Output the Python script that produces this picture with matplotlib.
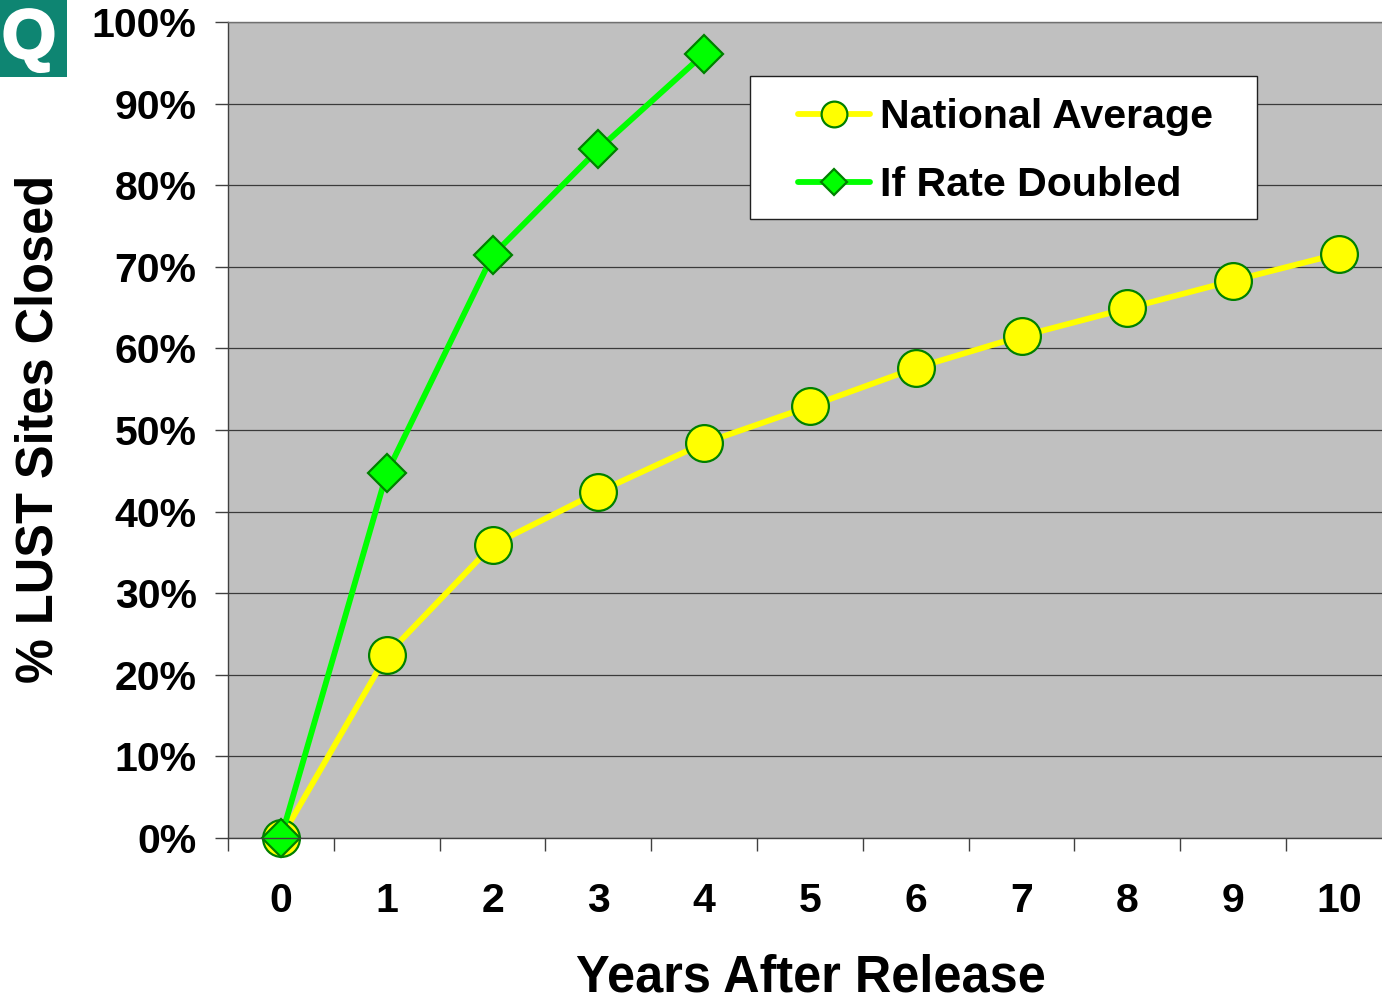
# -*- coding: utf-8 -*-

"""
LUST site closures after release
"""

import matplotlib
matplotlib.use('Agg')
import matplotlib.pyplot as plt
import matplotlib.patheffects as pe
from matplotlib.patches import Rectangle

years = [0, 1, 2, 3, 4, 5, 6, 7, 8, 9, 10]
national_average = [0, 22.4, 35.9, 42.4, 48.4, 52.9, 57.6, 61.5, 64.9, 68.3, 71.6]
doubled_years = [0, 1, 2, 3, 4]
rate_doubled = [0, 44.7, 71.4, 84.4, 96.1]
y_ticks = [0, 10, 20, 30, 40, 50, 60, 70, 80, 90, 100]
y_labels = ['0%', '10%', '20%', '30%', '40%', '50%', '60%', '70%', '80%', '90%', '100%']

W, H = 1382, 994
plt.rcParams['font.family'] = ['Liberation Sans', 'DejaVu Sans']
plt.rcParams['font.weight'] = 'bold'

fig = plt.figure(figsize=(W / 100, H / 100), dpi=100)
left, right, top, bottom = 228, 1382, 22, 838
ax = fig.add_axes([left / W, 1 - bottom / H, (right - left) / W, (bottom - top) / H])
ax.set_facecolor('#C0C0C0')
ax.set_ylim(0, 100)
ax.set_axisbelow(True)
ax.grid(axis='y', color='#3A3A3A', linewidth=0.9)

for s in ['top', 'left', 'bottom']:
    ax.spines[s].set_color('#404040')
    ax.spines[s].set_linewidth(1.0)
ax.spines['top'].set_color('#707070')
ax.spines['right'].set_visible(False)

ax.plot(years, national_average, color='#FFFF00', linewidth=4.2, marker='o', markersize=26.5,
        markerfacecolor='#FFFF00', markeredgecolor='#008000', markeredgewidth=1.6,
        label='National Average', clip_on=False, solid_capstyle='round')
ax.plot(doubled_years, rate_doubled, color='#00FF00', linewidth=4.2, marker='D', markersize=19,
        markerfacecolor='#00FF00', markeredgecolor='#008000', markeredgewidth=1.6,
        label='If Rate Doubled', clip_on=False, solid_capstyle='round')

ax.set_yticks(y_ticks)
ax.set_yticklabels(y_labels, fontsize=29.5, fontweight='bold')
ax.tick_params(axis='y', length=9.5, width=1.0, color='#404040', pad=13)
ax.set_xticks(years)
ax.set_xticklabels([str(v) for v in years], fontsize=29.5, fontweight='bold')
ax.tick_params(axis='x', which='major', length=0, pad=32)
ax.set_xticks([v - 0.5 for v in years] + [10.5], minor=True)
ax.tick_params(axis='x', which='minor', length=9, width=1.0, color='#404040')
ax.set_xlim(-0.5, 10.407)

fig.text(811 / W, 1 - 991 / H, 'Years After Release', fontsize=36.4, fontweight='bold', ha='center', va='baseline')
fig.text(39 / W, 1 - 429 / H, '% LUST Sites Closed', fontsize=36.4, fontweight='bold', ha='center', va='center',
         rotation=90)

# legend box is wider than the legend entries, so drawn on its own
fig.add_artist(Rectangle((750 / W, 1 - 219 / H), 507 / W, 143 / H, transform=fig.transFigure,
                         facecolor='white', edgecolor='#202020', linewidth=1.0, zorder=4))
leg = fig.legend(*ax.get_legend_handles_labels(), loc='upper left', bbox_to_anchor=(798 / W, 1 - 98.5 / H),
                 borderaxespad=0, borderpad=0, fontsize=29.6, markerscale=0.7, frameon=False,
                 handlelength=1.75, handletextpad=0.25, labelspacing=0.72)
leg.set_zorder(5)

# Q badge in the corner
fig.add_artist(Rectangle((0, 1 - 77 / H), 67 / W, 77 / H, transform=fig.transFigure,
                         facecolor='#0E8572', edgecolor='none'))
fig.text(29 / W, 1 - 40 / H, 'Q', fontsize=50, color='white', fontweight='bold', ha='center', va='center',
         path_effects=[pe.withStroke(linewidth=2, foreground='white')], zorder=6)

fig.savefig('out.png', dpi=100)
